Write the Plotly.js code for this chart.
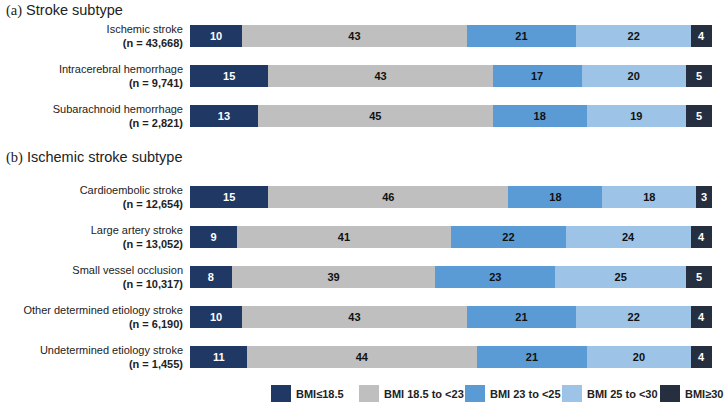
<!DOCTYPE html>
<html>
<head>
<meta charset="utf-8">
<script src="https://cdn.plot.ly/plotly-3.0.1.min.js"></script>
<style>html,body{margin:0;padding:0;background:#fff;}#chart{width:728px;height:407px;}</style>
</head>
<body>
<div id="chart"></div>
<script>
// ---- Data ----
const seriesNames = ['BMI\u226418.5', 'BMI 18.5 to <23', 'BMI 23 to <25', 'BMI 25 to <30', 'BMI\u226530'];

const panelACategories = ['Ischemic stroke', 'Intracerebral hemorrhage', 'Subarachnoid hemorrhage'];
const panelAN = ['43,668', '9,741', '2,821'];
const panelA_bmiUnder185 = [10, 15, 13];
const panelA_bmi185to23 = [43, 43, 45];
const panelA_bmi23to25 = [21, 17, 18];
const panelA_bmi25to30 = [22, 20, 19];
const panelA_bmiOver30 = [4, 5, 5];

const panelBCategories = ['Cardioembolic stroke', 'Large artery stroke', 'Small vessel occlusion',
  'Other determined etiology stroke', 'Undetermined etiology stroke'];
const panelBN = ['12,654', '13,052', '10,317', '6,190', '1,455'];
const panelB_bmiUnder185 = [15, 9, 8, 10, 11];
const panelB_bmi185to23 = [46, 41, 39, 43, 44];
const panelB_bmi23to25 = [18, 22, 23, 21, 21];
const panelB_bmi25to30 = [18, 24, 25, 22, 20];
const panelB_bmiOver30 = [3, 4, 5, 4, 4];

const panelTitles = ['Stroke subtype', 'Ischemic stroke subtype'];
const panelLetters = ['(a)', '(b)'];

// ---- Styles ----
const colors = ['#1F3864', '#BFBFBF', '#5B9BD5', '#9DC3E6', '#262F3F'];
const textColors = ['#FFFFFF', '#111111', '#111111', '#111111', '#FFFFFF'];

const W = 728, H = 407;
const px = v => v / W;
const py = v => 1 - v / H;

const panelA = [panelA_bmiUnder185, panelA_bmi185to23, panelA_bmi23to25, panelA_bmi25to30, panelA_bmiOver30];
const panelB = [panelB_bmiUnder185, panelB_bmi185to23, panelB_bmi23to25, panelB_bmi25to30, panelB_bmiOver30];

function idx(arr) { return arr.map((_, i) => i); }
function tickText(cats, ns) { return cats.map((c, i) => c + '<br><b>(n = ' + ns[i] + ')</b>'); }

const traces = [];
[[panelA, panelACategories, 'x', 'y'], [panelB, panelBCategories, 'x2', 'y2']].forEach(([panel, cats, xa, ya]) => {
  panel.forEach((vals, s) => {
    traces.push({
      type: 'bar', orientation: 'h',
      x: vals, y: idx(cats),
      xaxis: xa, yaxis: ya,
      name: seriesNames[s], showlegend: false,
      width: 0.56,
      marker: { color: colors[s], line: { width: 0 } },
      text: vals.map(String),
      textposition: 'inside', insidetextanchor: 'middle',
      textfont: { color: textColors[s], size: 11, family: 'Liberation Sans, Arial, sans-serif', weight: 700 },
      constraintext: 'none',
      hoverinfo: 'x+name'
    });
  });
});

const xDom = [px(190), px(712)];
const tickFont = { family: 'Liberation Sans, Arial, sans-serif', size: 11, color: '#222' };

const layout = {
  width: W, height: H,
  margin: { l: 0, r: 0, t: 0, b: 0 },
  paper_bgcolor: '#fff', plot_bgcolor: '#fff',
  barmode: 'stack',
  xaxis: { domain: xDom, range: [0, 100], visible: false, fixedrange: true },
  xaxis2: { domain: xDom, range: [0, 100], visible: false, anchor: 'y2', fixedrange: true },
  yaxis: {
    domain: [py(136), py(16)], range: [2.5, -0.5], anchor: 'x',
    tickvals: idx(panelACategories), ticktext: tickText(panelACategories, panelAN),
    showgrid: false, zeroline: false, showline: false, ticks: '', ticklabelstandoff: 6,
    tickfont: tickFont, fixedrange: true
  },
  yaxis2: {
    domain: [py(377), py(177)], range: [4.5, -0.5], anchor: 'x2',
    tickvals: idx(panelBCategories), ticktext: tickText(panelBCategories, panelBN),
    showgrid: false, zeroline: false, showline: false, ticks: '', ticklabelstandoff: 6,
    tickfont: tickFont, fixedrange: true
  },
  annotations: [],
  shapes: []
};

// Panel titles
[11, 157].forEach((yy, i) => {
  layout.annotations.push({
    xref: 'paper', yref: 'paper', x: px(4), y: py(yy), xanchor: 'left', yanchor: 'middle',
    showarrow: false,
    text: '<span style="font-family:\'Liberation Serif\', \'Times New Roman\', serif">' + panelLetters[i] + '</span> ' + panelTitles[i],
    font: { family: 'Liberation Sans, Arial, sans-serif', size: 14.5, color: '#222' }
  });
});

// Custom legend
const legendSwatchX = [271, 359, 465, 562, 660];
legendSwatchX.forEach((x0, i) => {
  layout.shapes.push({
    type: 'rect', xref: 'paper', yref: 'paper',
    x0: px(x0), x1: px(x0 + 20), y0: py(402), y1: py(385),
    fillcolor: colors[i], line: { width: 0 }
  });
  layout.annotations.push({
    xref: 'paper', yref: 'paper', x: px(x0 + 23), y: py(394), xanchor: 'left', yanchor: 'middle',
    showarrow: false, text: seriesNames[i].replace('<', '&lt;'),
    font: { family: 'Liberation Sans, Arial, sans-serif', size: 11, color: '#222', weight: 700 }
  });
});

Plotly.newPlot('chart', traces, layout, { displayModeBar: false, staticPlot: true });
</script>
</body>
</html>
